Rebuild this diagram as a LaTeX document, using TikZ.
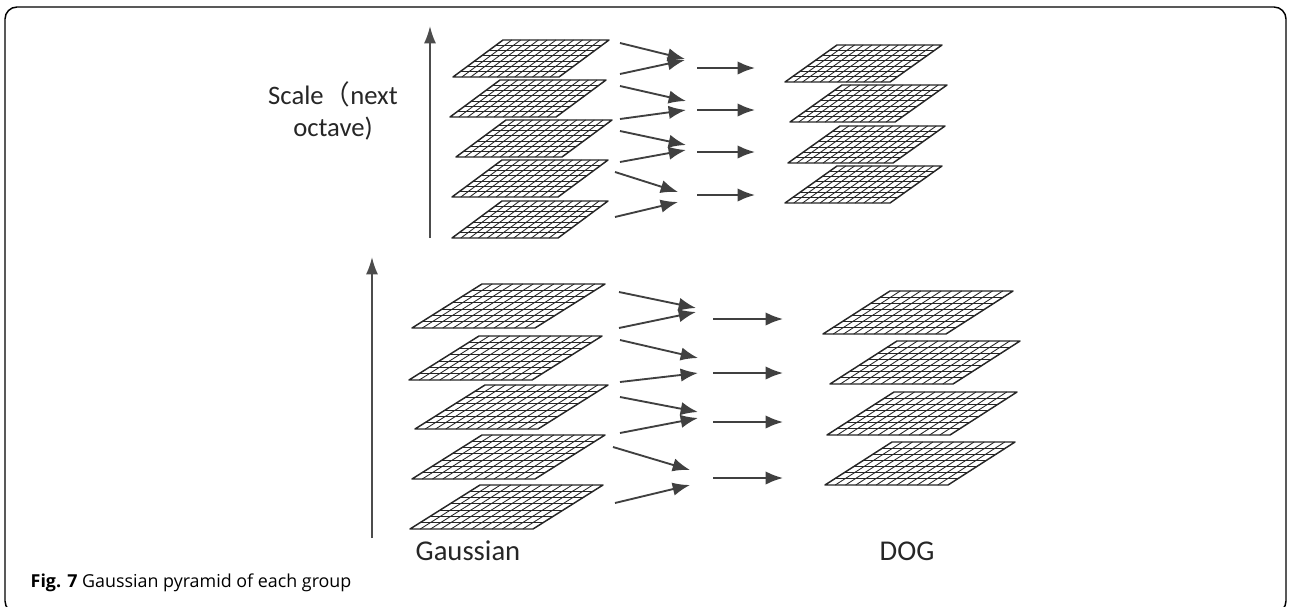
\documentclass[tikz,border=0pt]{standalone}
\usepackage{fontspec}
\setmainfont{Carlito}
\newfontfamily\capfont{Open Sans}
\newfontfamily\cjk{Noto Sans CJK SC}
\usetikzlibrary{arrows.meta}

\tikzset{
  plane/.style={draw=black!85, line width=1.1pt, line join=round},
  mesh/.style={draw=black!85, line width=0.65pt},
  diffarrow/.style={draw=black!75, line width=1.4pt, -{Latex[length=13pt,width=10pt]}},
  scaleaxis/.style={draw=black!70, line width=1.4pt, -{Latex[length=13pt,width=9pt]}},
  label/.style={font=\fontsize{20}{24}\selectfont, text=black!85},
  stacklabel/.style={font=\fontsize{21.5}{24}\selectfont, text=black!85},
}

% one blurred image: bottom-left corner, width, slant, height
\newcommand{\layer}[5]{%
  \foreach \k in {1,...,11}
    \draw[mesh] ({#1+\k*#3/12},#2) -- ({#1+#4+\k*#3/12},{#2-#5});
  \foreach \k in {1,...,6}
    \draw[mesh] ({#1+\k*#4/7},{#2-\k*#5/7}) -- ({#1+#3+\k*#4/7},{#2-\k*#5/7});
  \draw[plane] (#1,#2) -- ({#1+#3},#2) -- ({#1+#3+#4},{#2-#5}) -- ({#1+#4},{#2-#5}) -- cycle;
}

\begin{document}
\begin{tikzpicture}[x=0.75pt, y=-0.75pt]
  \useasboundingbox (0,0) rectangle (1290,607);
  % frame
  \draw[line width=1.1pt, rounded corners=9pt] (5,7) rectangle (1286,613);

  % next octave: gaussian and DOG stacks
  \foreach \bx/\by in {453/77, 450/117, 456/157, 452/197, 452/238}
    \layer{\bx}{\by}{106}{50}{37};
  \foreach \bx/\by in {785/82, 790/122, 788/163, 785/203}
    \layer{\bx}{\by}{105}{52}{37};

  % this octave
  \foreach \bx/\by in {412/328, 409/380, 415/429, 412/479, 410/529}
    \layer{\bx}{\by}{123}{70}{44};
  \foreach \bx/\by in {823/334, 830/384, 827/435, 825/485}
    \layer{\bx}{\by}{123}{67}{43};

  % scale axes
  \coordinate (upbase) at (430,238);
  \coordinate (uptip) at (430,26);
  \coordinate (lowbase) at (372,538);
  \coordinate (lowtip) at (372,257);
  \draw[scaleaxis] (upbase) -- (uptip);
  \draw[scaleaxis] (lowbase) -- (lowtip);

  % subtraction of neighbouring scales
  \foreach \n/\xa/\ya/\xb/\yb in {
      ua/620/43/685/59, ub/620/74/685/60, uc/697/68/755/68,
      ud/620/86/686/101, ue/620/119/686/110, uf/697/110/755/110,
      ug/620/131/686/145, uh/620/162/686/150, ui/697/152/755/152,
      uj/615/172/678/192, uk/615/217/678/202, ul/697/195/755/195,
      la/619/292/696/308, lb/619/328/696/312, lc/713/319/783/319,
      ld/620/340/698/358, le/620/382/698/373, lf/713/373/783/373,
      lg/620/397/698/412, lh/620/433/698/418, li/713/422/783/422,
      lj/613/447/690/470, lk/615/503/690/485, ll/713/478/783/478} {
    \coordinate (\n-from) at (\xa,\ya);
    \coordinate (\n-to) at (\xb,\yb);
    \draw[diffarrow] (\n-from) -- (\n-to);
  }

  % labels
  \node[label, align=center] (scale) at (333,111) {Scale{\cjk （}next\\octave)};
  \node[stacklabel] (gauss) at (468,551) {Gaussian};
  \node[stacklabel] (dog) at (907,551) {DOG};
  \node[anchor=west, font=\capfont\fontsize{13.4}{15}\selectfont] (caption) at (26,583)
    {\textbf{Fig. 7} Gaussian pyramid of each group};
\end{tikzpicture}
\end{document}
